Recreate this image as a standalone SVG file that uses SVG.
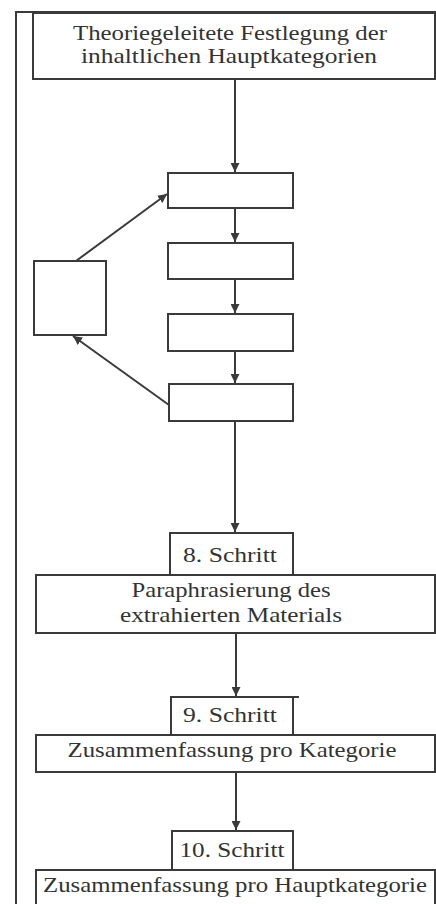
<svg xmlns="http://www.w3.org/2000/svg" width="436" height="904" viewBox="0 0 436 904">
<style>
.b{fill:#fff;stroke:#3a3a3a;stroke-width:2}
.c{stroke:#3a3a3a;stroke-width:2;fill:none}
.t{font-family:"Liberation Serif","DejaVu Serif",serif;font-size:22px;fill:#333;text-anchor:middle}
</style>
<defs>
<marker id="ah" viewBox="0 0 10 10" refX="10" refY="5" markerWidth="4.5" markerHeight="4.5" orient="auto" markerUnits="strokeWidth">
<path d="M0,0 L10,5 L0,10 z" fill="#3a3a3a"/>
</marker>
</defs>
<rect width="436" height="904" fill="#fff"/>
<g id="frame">
<path class="c" d="M16,904 V12 H436"/>
</g>
<g id="connectors">
<path class="c" d="M235,79 V172" marker-end="url(#ah)"/>
<path class="c" d="M235,208 V242" marker-end="url(#ah)"/>
<path class="c" d="M235,279 V313" marker-end="url(#ah)"/>
<path class="c" d="M235,351 V383" marker-end="url(#ah)"/>
<path class="c" d="M235,421 V532" marker-end="url(#ah)"/>
<path class="c" d="M236,633 V696" marker-end="url(#ah)"/>
<path class="c" d="M236,772 V830" marker-end="url(#ah)"/>
<path class="c" d="M76,261 L167,194" marker-end="url(#ah)"/>
<path class="c" d="M169,405 L73,336" marker-end="url(#ah)"/>
</g>
<g id="n1">
<rect class="b" x="33" y="13" width="402" height="66"/>
<text class="t" x="230" y="40" textLength="314" lengthAdjust="spacingAndGlyphs">Theoriegeleitete Festlegung der</text>
<text class="t" x="229" y="63" textLength="296" lengthAdjust="spacingAndGlyphs">inhaltlichen Hauptkategorien</text>
</g>
<g id="s1"><rect class="b" x="168" y="173" width="125" height="35"/></g>
<g id="s2"><rect class="b" x="168" y="243" width="125" height="36"/></g>
<g id="s3"><rect class="b" x="168" y="314" width="125" height="37"/></g>
<g id="s4"><rect class="b" x="169" y="384" width="124" height="37"/></g>
<g id="left"><rect class="b" x="34" y="261" width="72" height="74"/></g>
<g id="n8">
<rect class="b" x="170" y="533" width="123" height="42"/>
<text class="t" x="230" y="562" textLength="94" lengthAdjust="spacingAndGlyphs">8. Schritt</text>
<rect class="b" x="36" y="575" width="399" height="58"/>
<text class="t" x="231" y="597" textLength="199" lengthAdjust="spacingAndGlyphs">Paraphrasierung des</text>
<text class="t" x="231" y="622" textLength="222" lengthAdjust="spacingAndGlyphs">extrahierten Materials</text>
</g>
<g id="n9">
<rect class="b" x="171" y="697" width="122" height="38"/>
<path class="c" d="M293,697 H299"/>
<text class="t" x="230" y="722" textLength="94" lengthAdjust="spacingAndGlyphs">9. Schritt</text>
<rect class="b" x="36" y="735" width="399" height="37"/>
<text class="t" x="232" y="757" textLength="329" lengthAdjust="spacingAndGlyphs">Zusammenfassung pro Kategorie</text>
</g>
<g id="n10">
<rect class="b" x="172" y="831" width="121" height="39"/>
<text class="t" x="232" y="857" textLength="105" lengthAdjust="spacingAndGlyphs">10. Schritt</text>
<rect class="b" x="36" y="870" width="399" height="40"/>
<text class="t" x="235" y="892" textLength="384" lengthAdjust="spacingAndGlyphs">Zusammenfassung pro Hauptkategorie</text>
</g>
</svg>
